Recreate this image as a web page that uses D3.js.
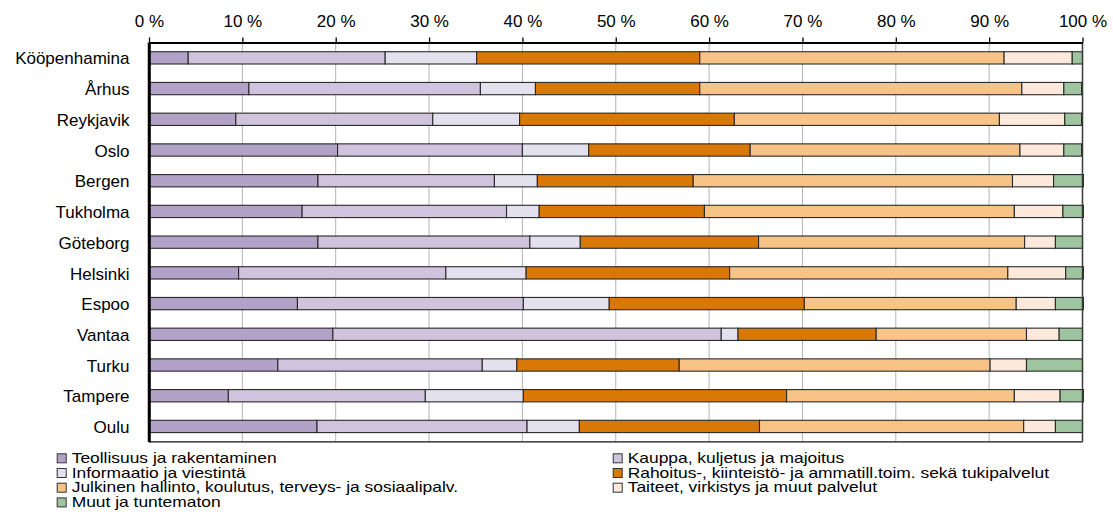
<!DOCTYPE html>
<html><head><meta charset="utf-8">
<script src="https://cdn.jsdelivr.net/npm/d3@7"></script>
<style>body{margin:0;background:#fff}svg{display:block}text{font-family:"Liberation Sans",Arial,sans-serif;fill:#000}</style>
</head><body>
<script>
const cities = ["Kööpenhamina","Århus","Reykjavik","Oslo","Bergen","Tukholma","Göteborg","Helsinki","Espoo","Vantaa","Turku","Tampere","Oulu"];
const seriesNames = ["Teollisuus ja rakentaminen","Kauppa, kuljetus ja majoitus","Informaatio ja viestintä","Rahoitus-, kiinteistö- ja ammatill.toim. sekä tukipalvelut","Julkinen hallinto, koulutus, terveys- ja sosiaalipalv.","Taiteet, virkistys ja muut palvelut","Muut ja tuntematon"];
const teollisuus = [4.2,10.7,9.3,20.2,18.1,16.4,18.1,9.6,15.9,19.7,13.8,8.5,18.0];
const kauppa     = [21.1,24.8,21.1,19.8,18.9,21.9,22.7,22.2,24.2,41.6,21.9,21.1,22.5];
const informaatio= [9.8,5.9,9.3,7.1,4.6,3.5,5.4,8.6,9.2,1.8,3.7,10.5,5.6];
const rahoitus   = [23.9,17.6,23.0,17.3,16.7,17.7,19.1,21.8,20.9,14.8,17.4,28.2,19.3];
const julkinen   = [32.6,34.5,28.4,28.9,34.2,33.2,28.5,29.8,22.7,16.1,33.3,24.4,28.3];
const taiteet    = [7.3,4.5,7.0,4.7,4.4,5.2,3.3,6.2,4.2,3.5,3.9,4.9,3.4];
const muut       = [1.1,1.9,1.8,1.9,3.2,2.2,2.9,1.9,3.0,2.5,6.0,2.5,2.9];
const tickLabels = ["0 %","10 %","20 %","30 %","40 %","50 %","60 %","70 %","80 %","90 %","100 %"];
const colors = ["#b3a2c8","#cfc3de","#e4e1ef","#d97707","#f8c387","#fde9db","#9ec4a0"];

const seriesValues = [teollisuus,kauppa,informaatio,rahoitus,julkinen,taiteet,muut];
const rows = cities.map((c,i)=>{const o={city:c}; seriesNames.forEach((s,j)=>o[s]=seriesValues[j][i]); return o;});

const W=1113,H=521;
const svg=d3.select("body").append("svg").attr("width",W).attr("height",H);
const x=d3.scaleLinear().domain([0,100]).range([149,1082.5]);
const y=d3.scaleBand().domain(cities).range([42.5,441.8]).paddingInner(0.6).paddingOuter(0.3);

// gridlines
svg.append("g").selectAll("line").data(d3.range(10,100,10)).join("line")
  .attr("x1",d=>x(d)).attr("x2",d=>x(d)).attr("y1",42.5).attr("y2",441.8)
  .attr("stroke","#b4b4b4").attr("stroke-width",1);

// bars
const stack=d3.stack().keys(seriesNames)(rows);
const g=svg.append("g");
stack.forEach((layer,j)=>{
  g.append("g").attr("fill",colors[j]).selectAll("rect").data(layer).join("rect")
   .attr("x",d=>x(d[0])).attr("width",d=>x(d[1])-x(d[0]))
   .attr("y",d=>y(d.data.city)).attr("height",y.bandwidth())
   .attr("stroke","#2a2a2a").attr("stroke-width",1.1);
});

// frame
svg.append("line").attr("x1",x(100)).attr("x2",x(100)).attr("y1",42.5).attr("y2",441.8).attr("stroke","#3a3a3a").attr("stroke-width",1.5);
svg.append("line").attr("x1",x(0)).attr("x2",x(100)).attr("y1",441.8).attr("y2",441.8).attr("stroke","#111").attr("stroke-width",1.2);

// top axis
const axis=d3.axisTop(x).tickValues(d3.range(0,101,10)).tickFormat((d,i)=>tickLabels[i]).tickSize(5).tickSizeOuter(0);
const ax=svg.append("g").attr("transform","translate(0,42.5)").call(axis);
ax.select(".domain").attr("stroke","#000").attr("stroke-width",2);
ax.selectAll(".tick line").attr("stroke","#000").attr("stroke-width",1.3);
ax.selectAll(".tick text").attr("font-size",17).attr("font-family","Liberation Sans, Arial, sans-serif").attr("fill","#000").attr("y",-15.2).attr("dy",0);

// left axis
const ay=svg.append("g").attr("transform","translate(149,0)").call(d3.axisLeft(y).tickSize(0).tickPadding(19.5));
ay.select(".domain").attr("stroke","#000").attr("stroke-width",2.5);
ay.selectAll(".tick text").attr("font-size",17).attr("font-family","Liberation Sans, Arial, sans-serif").attr("fill","#000").attr("dy","0.39em");
svg.append("line").attr("x1",149).attr("x2",149).attr("y1",42.5).attr("y2",441.8).attr("stroke","#000").attr("stroke-width",2.5);

// legend
const legendPos = [[56.7,458.3],[612.7,458.3],[56.7,473],[612.7,473],[56.7,487.7],[612.7,487.7],[56.7,502.4]];
const lg=svg.append("g");
seriesNames.forEach((s,j)=>{
  const [lx,ly]=legendPos[j];
  lg.append("rect").attr("x",lx+0.5).attr("y",ly-4.5).attr("width",9).attr("height",9)
    .attr("fill",colors[j]).attr("stroke","#333").attr("stroke-width",1);
  lg.append("g").attr("transform",`translate(${lx+15},${ly+4.6}) scale(1.16,1)`)
    .append("text").attr("font-size",15).text(s);
});
</script>
</body></html>
